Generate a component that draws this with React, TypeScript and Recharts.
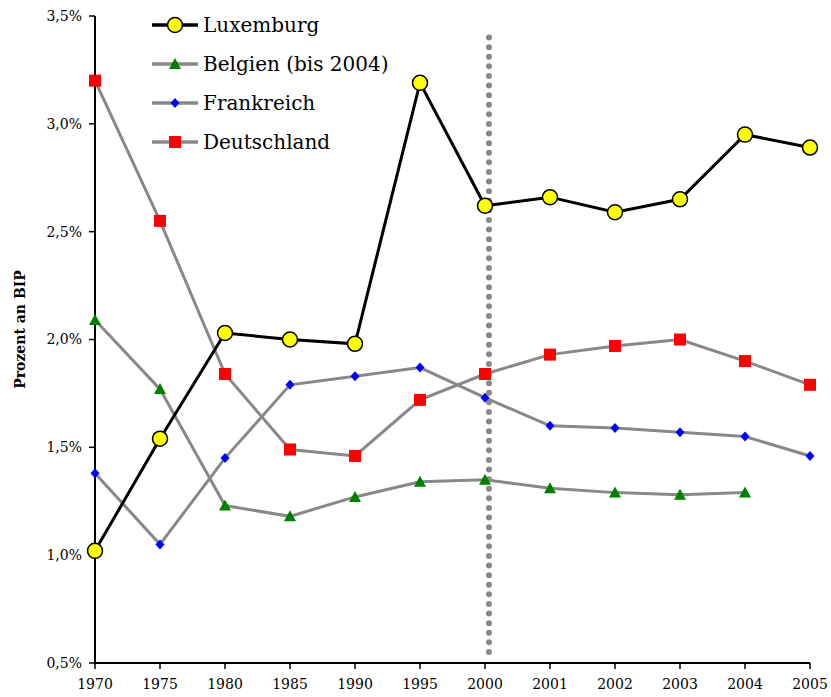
import { LineChart, Line, XAxis, YAxis, ReferenceLine } from 'recharts';

const years = ['1970', '1975', '1980', '1985', '1990', '1995', '2000', '2001', '2002', '2003', '2004', '2005'];
const luxemburg = [1.02, 1.54, 2.03, 2.0, 1.98, 3.19, 2.62, 2.66, 2.59, 2.65, 2.95, 2.89];
const belgien = [2.09, 1.77, 1.23, 1.18, 1.27, 1.34, 1.35, 1.31, 1.29, 1.28, 1.29, null];
const frankreich = [1.38, 1.05, 1.45, 1.79, 1.83, 1.87, 1.73, 1.6, 1.59, 1.57, 1.55, 1.46];
const deutschland = [3.2, 2.55, 1.84, 1.49, 1.46, 1.72, 1.84, 1.93, 1.97, 2.0, 1.9, 1.79];
const yTicks = [0.5, 1.0, 1.5, 2.0, 2.5, 3.0, 3.5];

const data = years.map((year, i) => ({
  year,
  Luxemburg: luxemburg[i],
  Belgien: belgien[i],
  Frankreich: frankreich[i],
  Deutschland: deutschland[i],
}));

const font = '"DejaVu Serif", serif';

function marker(kind: string, cx: number, cy: number, key?: string | number) {
  if (kind === 'circle') {
    return <circle key={key} cx={cx} cy={cy} r={7.5} fill="#ffff00" stroke="#000" strokeWidth={1.5} />;
  }
  if (kind === 'triangle') {
    return <polygon key={key} points={`${cx},${cy - 6} ${cx + 6},${cy + 5} ${cx - 6},${cy + 5}`} fill="#008000" />;
  }
  if (kind === 'diamond') {
    return <polygon key={key} points={`${cx},${cy - 5} ${cx + 4.5},${cy} ${cx},${cy + 5} ${cx - 4.5},${cy}`} fill="#0000ff" />;
  }
  return <rect key={key} x={cx - 6} y={cy - 6} width={12} height={12} fill="#ff0000" />;
}

function makeDot(kind: string) {
  return (props: any) => {
    const { cx, cy, index, value } = props;
    if (value == null || cx == null || cy == null) return <g key={`e-${kind}-${index}`} />;
    return marker(kind, cx, cy, `${kind}-${index}`);
  };
}

const legendItems = [
  { name: 'Luxemburg', kind: 'circle', color: '#000' },
  { name: 'Belgien (bis 2004)', kind: 'triangle', color: '#888' },
  { name: 'Frankreich', kind: 'diamond', color: '#888' },
  { name: 'Deutschland', kind: 'square', color: '#888' },
];

function ChartLegend() {
  return (
    <svg width={280} height={160} style={{ position: 'absolute', left: 150, top: 13 }}>
      {legendItems.map((item, i) => {
        const y = 12 + i * 39;
        return (
          <g key={item.name}>
            <line x1={2} x2={48} y1={y} y2={y} stroke={item.color} strokeWidth={3.5} />
            {marker(item.kind, 25, y)}
            <text x={53} y={y + 7} fontSize={20} fontFamily={font} fill="#000">
              {item.name}
            </text>
          </g>
        );
      })}
    </svg>
  );
}

function YLabel(props: any) {
  const { viewBox } = props;
  const cy = viewBox.y + viewBox.height / 2 - 10;
  return (
    <text
      x={20}
      y={cy}
      transform={`rotate(-90, 20, ${cy})`}
      textAnchor="middle"
      dominantBaseline="central"
      fontFamily={font}
      fontSize={14}
      fontWeight="bold"
      fill="#000"
    >
      Prozent an BIP
    </text>
  );
}

const tickStyle = { fill: '#000', fontSize: 14, fontFamily: font };

export default function App() {
  return (
    <div style={{ position: 'absolute', left: 0, top: 0, width: 831, height: 697, background: '#fff' }}>
      <LineChart width={831} height={697} data={data} margin={{ top: 16, right: 21, bottom: 0, left: 0 }}>
        <XAxis
          dataKey="year"
          height={34}
          axisLine={{ stroke: '#000', strokeWidth: 2 }}
          tickLine={{ stroke: '#000', strokeWidth: 1.5 }}
          tickSize={6}
          tickMargin={10}
          tick={tickStyle}
          fontSize={14}
          interval={0}
        />
        <YAxis
          width={95}
          domain={[0.5, 3.5]}
          ticks={yTicks}
          axisLine={{ stroke: '#000', strokeWidth: 2 }}
          tickLine={{ stroke: '#000', strokeWidth: 1.5 }}
          tickSize={6}
          tickMargin={7}
          tick={tickStyle}
          fontSize={14}
          tickFormatter={(v: number) => `${v.toFixed(1).replace('.', ',')}%`}
          label={<YLabel />}
        />
        <ReferenceLine
          segment={[{ x: '2000', y: 3.4 }, { x: '2000', y: 0.54 }]}
          stroke="#888"
          strokeWidth={6}
          strokeLinecap="round"
          strokeDasharray="0 9.6"
          transform="translate(4, 0)"
        />
        <Line dataKey="Belgien" stroke="#888" strokeWidth={3} dot={makeDot('triangle')} isAnimationActive={false} />
        <Line dataKey="Frankreich" stroke="#888" strokeWidth={3} dot={makeDot('diamond')} isAnimationActive={false} />
        <Line dataKey="Deutschland" stroke="#888" strokeWidth={3} dot={makeDot('square')} isAnimationActive={false} />
        <Line dataKey="Luxemburg" stroke="#000" strokeWidth={3} dot={makeDot('circle')} isAnimationActive={false} />
      </LineChart>
      <ChartLegend />
    </div>
  );
}
